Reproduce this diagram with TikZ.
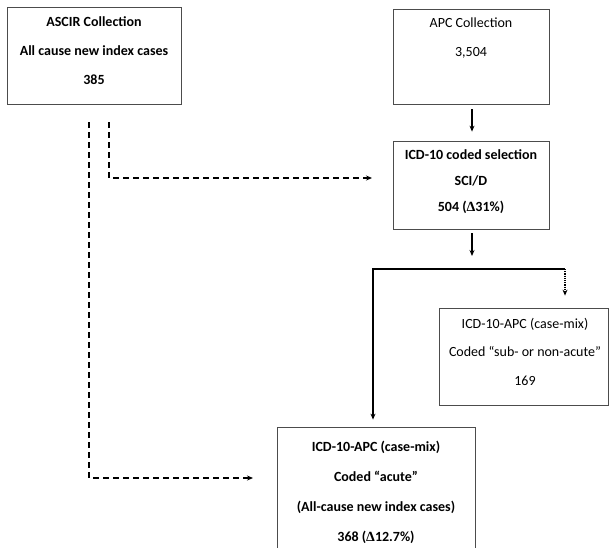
\documentclass[tikz,border=0pt]{standalone}
\usepackage{fontspec}
\setmainfont{Carlito}
\newfontfamily\symfont{Liberation Serif}
\usetikzlibrary{arrows.meta}
\newcommand{\dlt}{{\symfont\char"0394}}
\begin{document}
\begin{tikzpicture}[x=1pt,y=-1pt,
  box/.style={draw=black!70,line width=0.8pt,rectangle,inner sep=0pt},
  txt/.style={align=center,inner sep=0pt,font=\fontsize{14}{29}\selectfont},
  flow/.style={line width=1.2pt,-{Stealth[length=6pt,width=5pt]}},
  dashflow/.style={line width=1.2pt,dash pattern=on 6pt off 4pt,-{Stealth[length=6pt,width=5pt]}},
  dotflow/.style={line width=1.2pt,densely dotted,-{Stealth[length=6pt,width=5pt]}}]
\useasboundingbox (0,0) rectangle (612,547);
\fill[white] (0,0) rectangle (612,547);

% boxes
\node[box,minimum width=174pt,minimum height=97pt] (ascir) at (94,55.5) {};
\node[box,minimum width=156pt,minimum height=95pt] (apc) at (471,56.5) {};
\node[box,minimum width=156pt,minimum height=88pt] (icd) at (471,185) {};
\node[box,minimum width=169pt,minimum height=97pt] (sub) at (523.5,356.5) {};
\node[box,minimum width=198pt,minimum height=140pt] (acute) at (376,497) {};

% box texts
\node[txt,font=\fontsize{14}{29}\selectfont\bfseries] (ascirT) at (94,51)
  {ASCIR Collection\\All cause new index cases\\385};
\node[txt] (apcT) at (471,38.5) {APC Collection\\3,504};
\node[txt,font=\fontsize{14}{26}\selectfont\bfseries] (icdT) at (471,182)
  {ICD-10 coded selection\\SCI/D\\504 (\dlt31\%)};
\node[txt,font=\fontsize{14}{28.5}\selectfont] (subT) at (525,351.5)
  {ICD-10-APC (case-mix)\\Coded “sub- or non-acute”\\169};
\node[txt,font=\fontsize{14}{30}\selectfont\bfseries] (acuteT) at (376,492)
  {ICD-10-APC (case-mix)\\Coded “acute”\\(All-cause new index cases)\\368 (\dlt12.7\%)};

% bend and end points
\coordinate (icdOut) at (472,256);
\coordinate (splitL) at (373,269);
\coordinate (splitR) at (565,269);
\coordinate (dashA) at (109,122);
\coordinate (dashAbend) at (109,178);
\coordinate (dashAend) at (372,178);
\coordinate (dashB) at (89,122);
\coordinate (dashBbend) at (89,478);
\coordinate (dashBend) at (253,478);

% solid connectors
\draw[flow,shorten <=5pt,shorten >=9pt] (apc.south -| 472,0) -- (icd.north -| 472,0);
\draw[flow,shorten <=4pt] (icd.south -| icdOut) -- (icdOut);
\draw[flow,shorten >=7pt] (splitR) -- (splitL) -- (acute.north -| splitL);
\draw[dotflow,shorten >=12pt] (splitR) -- (sub.north -| splitR);

% dashed connectors from ASCIR
\draw[dashflow] (dashA) -- (dashAbend) -- (dashAend);
\draw[dashflow] (dashB) -- (dashBbend) -- (dashBend);
\end{tikzpicture}
\end{document}
